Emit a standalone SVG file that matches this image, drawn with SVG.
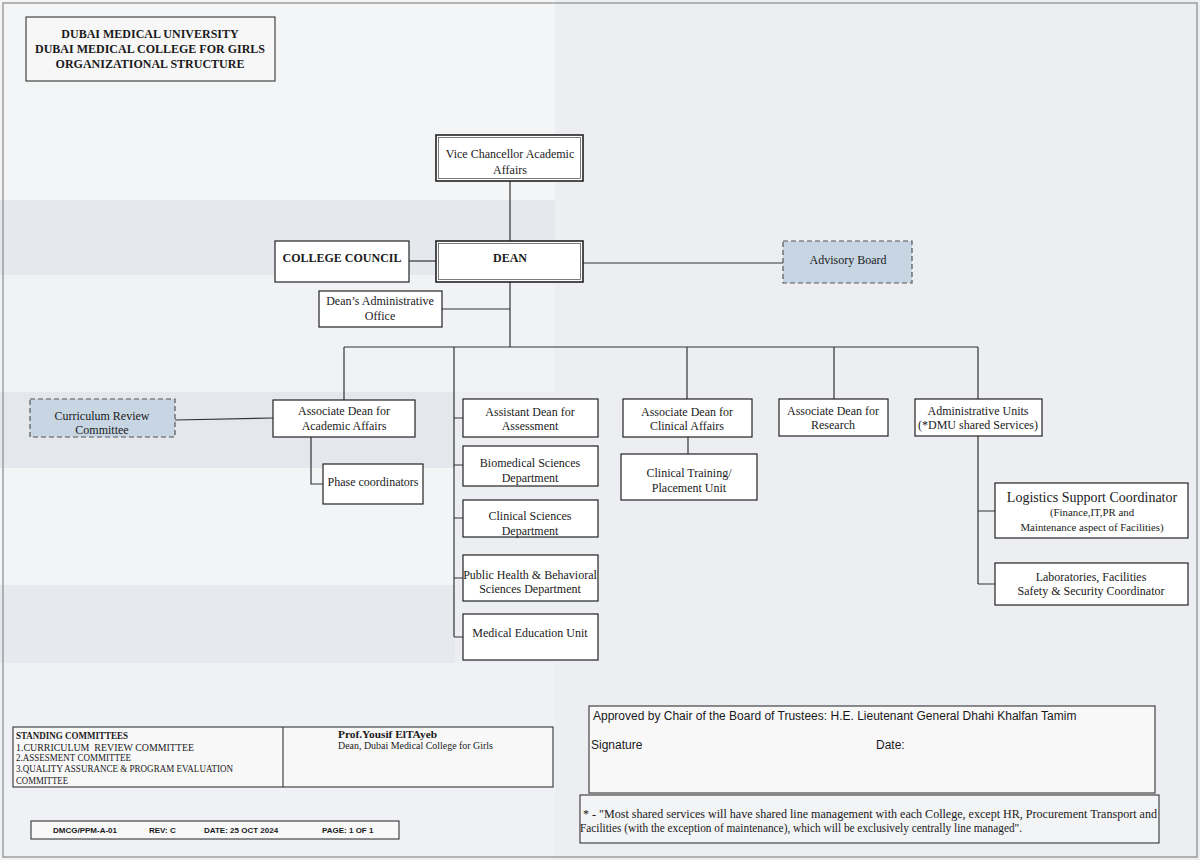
<svg xmlns="http://www.w3.org/2000/svg" width="1200" height="860" viewBox="0 0 1200 860">
<style>
.bx{fill:#ffffff;stroke:#222;stroke-width:1.2}
.dash{fill:#c8d6e4;stroke:#555;stroke-width:1.2;stroke-dasharray:5 3}
.t{font-family:"Liberation Serif","Times New Roman",serif;font-size:12px;fill:#1a1a1a;text-anchor:middle}
.tb{font-family:"Liberation Serif","Times New Roman",serif;font-size:12px;font-weight:bold;fill:#1a1a1a;text-anchor:middle}
.s{font-family:"Liberation Serif","Times New Roman",serif;font-size:9.5px;fill:#1a1a1a}
.a{font-family:"Liberation Sans",Arial,sans-serif;font-size:12px;fill:#1a1a1a}
.d{font-family:"Liberation Sans",Arial,sans-serif;font-size:8px;font-weight:bold;fill:#1a1a1a}
.c{fill:none;stroke:#333;stroke-width:1.2}
</style>
<rect x="0" y="0" width="1200" height="860" fill="#eceef2"/>
<rect x="0" y="0" width="555" height="200" fill="#f4f5f7"/>
<rect x="0" y="200" width="555" height="75" fill="#e5e8ed"/>
<rect x="0" y="275" width="555" height="117" fill="#f1f2f5"/>
<rect x="0" y="392" width="455" height="76" fill="#e4e7ec"/>
<rect x="0" y="468" width="455" height="117" fill="#f3f4f6"/>
<rect x="0" y="585" width="455" height="78" fill="#e6e9ee"/>
<rect x="0" y="663" width="555" height="197" fill="#f0f1f4"/>
<rect x="3" y="3" width="1194" height="854" fill="none" stroke="#8a8a8a" stroke-width="1.2"/>

<g id="title">
<rect x="26" y="17" width="249" height="64" fill="#f7f7f8" stroke="#333" stroke-width="1.1"/>
<text class="tb" x="150" y="38">DUBAI MEDICAL UNIVERSITY</text>
<text class="tb" x="150" y="53">DUBAI MEDICAL COLLEGE FOR GIRLS</text>
<text class="tb" x="150" y="68">ORGANIZATIONAL STRUCTURE</text>
</g>

<g id="connectors">
<path class="c" d="M510 181V241"/>
<path class="c" d="M510 282V347"/>
<path class="c" d="M442 309H510"/>
<path class="c" d="M409 261H436"/>
<path class="c" d="M583 263H783"/>
<path class="c" d="M344 347H978"/>
<path class="c" d="M344 347V400"/>
<path class="c" d="M175 420L273 418"/>
<path class="c" d="M311 437V484H323"/>
<path class="c" d="M454 347V637"/>
<path class="c" d="M454 418H463M454 465H463M454 518H463M454 578H463M454 637H463"/>
<path class="c" d="M687 347V399"/>
<path class="c" d="M688 437V454"/>
<path class="c" d="M834 347V399"/>
<path class="c" d="M978 347V399"/>
<path class="c" d="M978 436V584"/>
<path class="c" d="M978 511H995M978 584H995"/>
</g>

<g id="vc">
<rect class="bx" x="436" y="135" width="147" height="46" style="stroke-width:1.6"/>
<rect x="438.5" y="137.5" width="142" height="41" fill="none" stroke="#444" stroke-width="0.7"/>
<text class="t" x="510" y="158">Vice Chancellor Academic</text>
<text class="t" x="510" y="174">Affairs</text>
</g>

<g id="dean">
<rect class="bx" x="436" y="241" width="147" height="41" style="stroke-width:1.6"/>
<rect x="438.5" y="243.5" width="142" height="36" fill="none" stroke="#444" stroke-width="0.7"/>
<text class="tb" x="510" y="262">DEAN</text>
</g>

<g id="college-council">
<rect class="bx" x="275" y="241" width="134" height="41"/>
<text class="tb" x="342" y="262">COLLEGE COUNCIL</text>
</g>

<g id="advisory-board">
<rect class="dash" x="783" y="241" width="129" height="42"/>
<text class="t" x="848" y="264">Advisory Board</text>
</g>

<g id="deans-office">
<rect class="bx" x="319" y="291" width="123" height="36"/>
<text class="t" x="380" y="305">Dean’s Administrative</text>
<text class="t" x="380" y="320">Office</text>
</g>

<g id="curriculum-review">
<rect class="dash" x="30" y="399" width="145" height="38"/>
<text class="t" x="102" y="420">Curriculum Review</text>
<text class="t" x="102" y="434">Committee</text>
</g>

<g id="assoc-dean-academic">
<rect class="bx" x="273" y="400" width="142" height="37"/>
<text class="t" x="344" y="415">Associate Dean for</text>
<text class="t" x="344" y="430">Academic Affairs</text>
</g>

<g id="phase-coordinators">
<rect class="bx" x="323" y="464" width="100" height="40"/>
<text class="t" x="373" y="486">Phase coordinators</text>
</g>

<g id="assistant-dean-assessment">
<rect class="bx" x="463" y="399" width="135" height="38"/>
<text class="t" x="530" y="416">Assistant Dean for</text>
<text class="t" x="530" y="430">Assessment</text>
</g>

<g id="biomedical">
<rect class="bx" x="463" y="446" width="135" height="40"/>
<text class="t" x="530" y="467">Biomedical Sciences</text>
<text class="t" x="530" y="482">Department</text>
</g>

<g id="clinical-sciences">
<rect class="bx" x="463" y="500" width="135" height="37"/>
<text class="t" x="530" y="520">Clinical Sciences</text>
<text class="t" x="530" y="535">Department</text>
</g>

<g id="public-health">
<rect class="bx" x="463" y="555" width="135" height="46"/>
<text class="t" x="530" y="579">Public Health &amp; Behavioral</text>
<text class="t" x="530" y="593">Sciences Department</text>
</g>

<g id="medical-education">
<rect class="bx" x="463" y="614" width="135" height="46"/>
<text class="t" x="530" y="637">Medical Education Unit</text>
</g>

<g id="assoc-dean-clinical">
<rect class="bx" x="623" y="399" width="129" height="38"/>
<text class="t" x="687" y="416">Associate Dean for</text>
<text class="t" x="687" y="430">Clinical Affairs</text>
</g>

<g id="clinical-training">
<rect class="bx" x="621" y="454" width="136" height="46"/>
<text class="t" x="689" y="477">Clinical Training/</text>
<text class="t" x="689" y="492">Placement Unit</text>
</g>

<g id="assoc-dean-research">
<rect class="bx" x="779" y="399" width="109" height="37"/>
<text class="t" x="833" y="415">Associate Dean for</text>
<text class="t" x="833" y="429">Research</text>
</g>

<g id="admin-units">
<rect class="bx" x="915" y="399" width="127" height="37"/>
<text class="t" x="978" y="415">Administrative Units</text>
<text class="t" x="978" y="429">(*DMU shared Services)</text>
</g>

<g id="logistics">
<rect class="bx" x="995" y="483" width="193" height="55"/>
<text class="t" x="1092" y="502" style="font-size:14px">Logistics Support Coordinator</text>
<text class="t" x="1092" y="516" style="font-size:10.8px">(Finance,IT,PR and</text>
<text class="t" x="1092" y="531" style="font-size:10.8px">Maintenance aspect of Facilities)</text>
</g>

<g id="laboratories">
<rect class="bx" x="995" y="563" width="193" height="42"/>
<text class="t" x="1091" y="581">Laboratories, Facilities</text>
<text class="t" x="1091" y="595">Safety &amp; Security Coordinator</text>
</g>

<g id="standing-committees">
<rect x="13" y="727" width="540" height="60" fill="#f8f8f9" stroke="#333" stroke-width="1.1"/>
<path d="M283 727V787" stroke="#333" stroke-width="1.1"/>
<text class="s" x="16" y="739" style="font-weight:bold" textLength="112" lengthAdjust="spacingAndGlyphs">STANDING COMMITTEES</text>
<text class="s" x="16" y="751" textLength="178" lengthAdjust="spacingAndGlyphs">1.CURRICULUM&#160; REVIEW COMMITTEE</text>
<text class="s" x="16" y="761" textLength="115" lengthAdjust="spacingAndGlyphs">2.ASSESMENT COMMITTEE</text>
<text class="s" x="16" y="772" textLength="217" lengthAdjust="spacingAndGlyphs">3.QUALITY ASSURANCE &amp; PROGRAM EVALUATION</text>
<text class="s" x="16" y="784" textLength="52" lengthAdjust="spacingAndGlyphs">COMMITTEE</text>
<text class="s" x="338" y="738" style="font-weight:bold;font-size:10.5px" textLength="99" lengthAdjust="spacingAndGlyphs">Prof.Yousif ElTAyeb</text>
<text class="s" x="338" y="749" style="font-size:10px" textLength="155" lengthAdjust="spacingAndGlyphs">Dean, Dubai Medical College for Girls</text>
</g>

<g id="doc-id">
<rect x="31" y="821" width="368" height="18" fill="#f8f8f9" stroke="#333" stroke-width="1.1"/>
<text class="d" x="53" y="833">DMCG/PPM-A-01</text>
<text class="d" x="149" y="833">REV: C</text>
<text class="d" x="204" y="833">DATE: 25 OCT 2024</text>
<text class="d" x="322" y="833">PAGE: 1 OF 1</text>
</g>

<g id="approval">
<rect x="589" y="706" width="566" height="87" fill="#f8f8f9" stroke="#333" stroke-width="1.1"/>
<text class="a" x="593" y="720">Approved by Chair of the Board of Trustees: H.E. Lieutenant General Dhahi Khalfan Tamim</text>
<text class="a" x="591" y="749">Signature</text>
<text class="a" x="876" y="749">Date:</text>
</g>

<g id="note">
<rect x="580" y="795" width="579" height="48" fill="#f3f4f6" stroke="#333" stroke-width="1.1"/>
<text class="s" x="583" y="818" style="font-size:11.5px" textLength="574" lengthAdjust="spacingAndGlyphs">*  - "Most shared services will have shared line management with each College, except HR, Procurement Transport and</text>
<text class="s" x="580" y="832" style="font-size:11.5px" textLength="442" lengthAdjust="spacingAndGlyphs">Facilities (with the exception of maintenance), which will be exclusively centrally line managed".</text>
</g>
</svg>
